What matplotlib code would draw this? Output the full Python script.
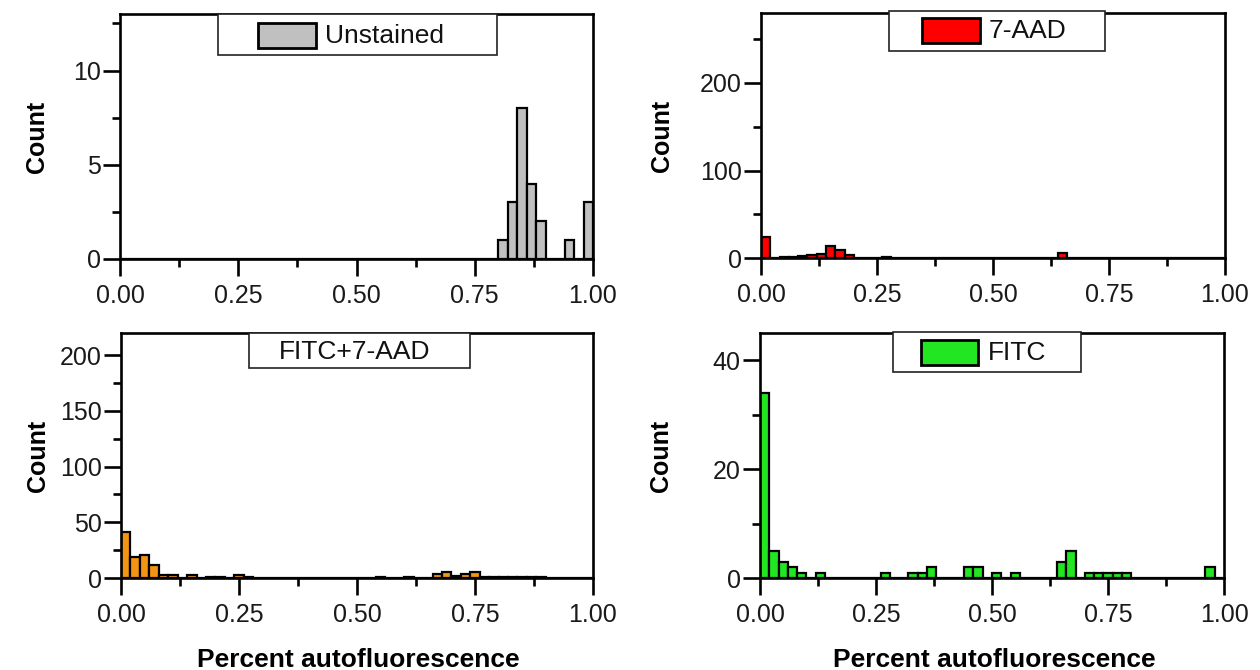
import numpy as np
import matplotlib
matplotlib.use("Agg")
import matplotlib.pyplot as plt
from matplotlib.patches import Rectangle
from matplotlib.ticker import MultipleLocator, FormatStrFormatter

plt.rcParams['font.family'] = ['Liberation Sans', 'DejaVu Sans']

# Histogram bins: 50 bins of width 0.02 over [0, 1]
bin_width = 0.02
bin_edges = np.round(np.arange(0, 1.0 + bin_width / 2, bin_width), 4)
n_bins = len(bin_edges) - 1


def counts_from(nonzero):
    c = np.zeros(n_bins)
    for idx, v in nonzero.items():
        c[idx] = v
    return c


# Counts per bin (bin index -> count)
unstained_counts = counts_from({40: 1, 41: 3, 42: 8, 43: 4, 44: 2, 47: 1, 49: 3})
aad_counts = counts_from({0: 24, 2: 1, 3: 1, 4: 2, 5: 3, 6: 5, 7: 14, 8: 9, 9: 3,
                          13: 1, 32: 6})
fitc_aad_counts = counts_from({0: 41, 1: 19, 2: 21, 3: 12, 4: 3, 5: 3, 7: 3, 9: 1,
                               10: 1, 12: 3, 13: 1, 27: 1, 30: 1, 33: 4, 34: 5,
                               35: 2, 36: 4, 37: 5, 38: 1, 39: 1, 40: 1, 41: 1,
                               42: 1, 43: 1, 44: 1})
fitc_counts = counts_from({0: 34, 1: 5, 2: 3, 3: 2, 4: 1, 6: 1, 13: 1, 16: 1, 17: 1,
                           18: 2, 22: 2, 23: 2, 25: 1, 27: 1, 32: 3, 33: 5, 35: 1,
                           36: 1, 37: 1, 38: 1, 39: 1, 48: 2})

labels = ["Unstained", "7-AAD", "FITC+7-AAD", "FITC"]
colors = ["#C0C0C0", "#FF0000", "#F39412", "#22E622"]
y_tops = [13, 280, 220, 45]
y_major = [5, 100, 50, 20]

fig = plt.figure(figsize=(12.6, 6.7), dpi=100)
W, H = 1260, 670


def axes_px(left, right, top, bottom):
    return [left / W, 1 - bottom / H, (right - left) / W, (bottom - top) / H]


ax_tl = fig.add_axes(axes_px(120, 593, 14, 259))
ax_tr = fig.add_axes(axes_px(761, 1225, 13, 258))
ax_bl = fig.add_axes(axes_px(121, 593, 333, 578))
ax_br = fig.add_axes(axes_px(760, 1224, 333, 578))

panels = [
    (ax_tl, unstained_counts, 0),
    (ax_tr, aad_counts, 1),
    (ax_bl, fitc_aad_counts, 2),
    (ax_br, fitc_counts, 3),
]

# Legend box geometry (axes fraction): box x0, x1, y0, y1; swatch x0, x1, y0, y1; text x, y
legend_geom = [
    ((0.207, 0.797, 0.833, 1.0), (0.292, 0.414, 0.861, 0.963), (0.433, 0.91)),
    ((0.276, 0.741, 0.845, 1.008), (0.347, 0.472, 0.878, 0.98), (0.491, 0.927)),
    ((0.271, 0.739, 0.857, 1.0), None, (0.494, 0.922)),
    ((0.287, 0.692, 0.841, 1.004), (0.347, 0.470, 0.869, 0.971), (0.491, 0.918)),
]

for ax, counts, i in panels:
    ax.bar(bin_edges[:-1], counts, width=bin_width, align='edge',
           color=colors[i], edgecolor='black', linewidth=1.6, zorder=2)
    ax.set_xlim(0, 1)
    ax.set_ylim(0, y_tops[i])
    ax.xaxis.set_major_locator(MultipleLocator(0.25))
    ax.xaxis.set_minor_locator(MultipleLocator(0.125))
    ax.xaxis.set_major_formatter(FormatStrFormatter('%.2f'))
    ax.yaxis.set_major_locator(MultipleLocator(y_major[i]))
    ax.yaxis.set_minor_locator(MultipleLocator(y_major[i] / 2))
    for s in ax.spines.values():
        s.set_linewidth(1.9)
        s.set_zorder(3)
    ax.tick_params(which='major', direction='out', length=12, width=1.9,
                   labelsize=18, colors='black', labelcolor='#1a1a1a')
    ax.tick_params(which='minor', direction='out', length=6, width=1.9)
    ax.tick_params(axis='x', which='major', pad=6)
    ax.tick_params(axis='y', which='major', pad=2)
    ax.set_ylabel("Count", fontsize=18, fontweight='bold')

    (bx0, bx1, by0, by1), sw, (tx, ty) = legend_geom[i]
    ax.add_patch(Rectangle((bx0, by0), bx1 - bx0, by1 - by0, transform=ax.transAxes,
                           facecolor='white', edgecolor='#222222', linewidth=1.2,
                           clip_on=False, zorder=5))
    if sw is not None:
        sx0, sx1, sy0, sy1 = sw
        ax.add_patch(Rectangle((sx0, sy0), sx1 - sx0, sy1 - sy0, transform=ax.transAxes,
                               facecolor=colors[i], edgecolor='black', linewidth=2.0,
                               clip_on=False, zorder=6))
        ax.text(tx, ty, labels[i], transform=ax.transAxes, fontsize=19,
                ha='left', va='center', zorder=7, color='#111111')
    else:
        ax.text(tx, ty, labels[i], transform=ax.transAxes, fontsize=19,
                ha='center', va='center', zorder=7, color='#111111')

ax_tl.yaxis.set_label_coords(-0.15, 0.5)
ax_bl.yaxis.set_label_coords(-0.15, 0.5)
ax_tr.yaxis.set_label_coords(-0.187, 0.5)
ax_br.yaxis.set_label_coords(-0.187, 0.5)

fig.text(358 / W, 1 - 660 / H, "Percent autofluorescence", fontsize=19,
         fontweight='bold', ha='center', va='center')
fig.text(994 / W, 1 - 660 / H, "Percent autofluorescence", fontsize=19,
         fontweight='bold', ha='center', va='center')

fig.savefig("out.png", dpi=100, facecolor='white')
